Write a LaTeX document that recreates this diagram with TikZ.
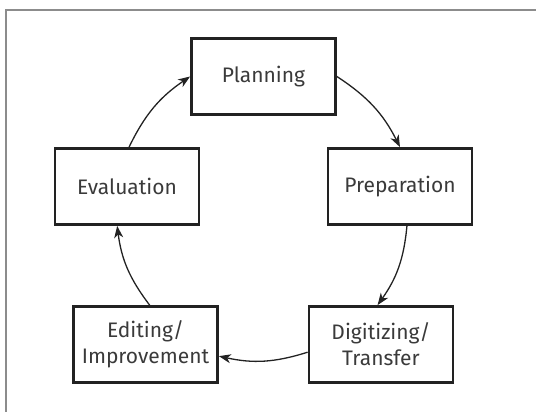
\documentclass[tikz,border=0pt]{standalone}
\usepackage{fontspec}
\setmainfont{Fira Sans}
\usepackage{xcolor}
\usetikzlibrary{arrows.meta, positioning}
\definecolor{cframe}{HTML}{8c8c8c}
\definecolor{cline}{HTML}{222222}
\definecolor{ctext}{HTML}{3a3a3a}

\begin{document}
\begin{tikzpicture}[
  x=0.5pt, y=-0.5pt,
  font=\fontsize{10.5}{13}\selectfont,
  >={Stealth[length=6pt, width=4.5pt, inset=1.8pt]},
  box/.style={draw=cline, line width=1.4pt, align=center, text=ctext,
              minimum width=72pt, minimum height=38pt, inner sep=2pt},
  arr/.style={->, line width=0.65pt, draw=cline, bend left=15},
  ]
\useasboundingbox (0,0) rectangle (536,412);
% frame
\draw[cframe, line width=1pt] (6,412) -- (6,10) -- (536,10);

\node[box] (plan) at (263.5,76.5) {Planning};
\node[box] (prep) at (400,186.5) {Preparation};
\node[box] (eval) at (127,186.5) {Evaluation};
\node[box] (digi) at (381,344.5) {Digitizing/\\Transfer};
\node[box] (edit) at (145.5,344.5) {Editing/\\Improvement};

\draw[arr] (plan.east) to (prep.north);
\draw[arr] (prep.-80) to (digi.95);
\draw[arr] (digi.186) to (edit.-9);
\draw[arr] (edit.84) to (eval.-104);
\draw[arr] (eval.87) to (plan.west);
\end{tikzpicture}
\end{document}
